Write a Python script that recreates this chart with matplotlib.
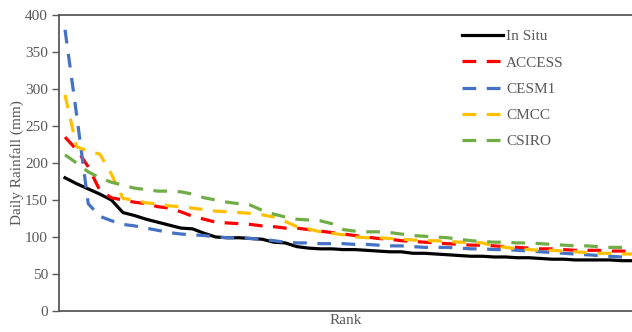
import matplotlib.pyplot as plt
import numpy as np

plt.rcParams['font.family'] = ['Liberation Serif', 'DejaVu Serif']

fontsize = 11
txt_color = "#595959"

rank = np.arange(50)

in_situ = [180, 172, 165, 158, 150, 133, 129, 124, 120, 116,
           112, 111, 105, 100, 99, 99, 98, 97, 93, 92,
           87, 85, 84, 84, 83, 83, 82, 81, 80, 80,
           78, 78, 77, 76, 75, 74, 74, 73, 73, 72,
           72, 71, 70, 70, 69, 69, 69, 69, 68, 68]
access = [235, 218, 195, 163, 153, 150, 147, 145, 141, 139,
          134, 128, 124, 120, 119, 118, 117, 115, 114, 112,
          112, 110, 108, 106, 104, 102, 100, 98, 97, 95,
          94, 93, 92, 91, 90, 89, 89, 88, 87, 86,
          85, 84, 84, 83, 82, 82, 82, 81, 81, 80]
cesm1 = [380, 265, 145, 128, 122, 117, 115, 112, 109, 106,
         104, 103, 102, 100, 99, 99, 98, 97, 95, 93,
         92, 92, 91, 91, 91, 90, 90, 89, 88, 88,
         87, 86, 86, 86, 85, 84, 84, 83, 83, 82,
         81, 80, 79, 78, 77, 76, 75, 74, 73, 73]
cmcc = [292, 222, 216, 212, 185, 152, 150, 146, 145, 142,
        141, 139, 137, 135, 134, 133, 132, 130, 127, 121,
        114, 111, 107, 105, 103, 100, 99, 99, 98, 97,
        96, 95, 95, 94, 93, 93, 92, 88, 86, 84,
        83, 82, 82, 81, 80, 79, 78, 78, 77, 77]
csiro = [211, 200, 188, 180, 174, 170, 166, 164, 162, 162,
         161, 158, 153, 150, 147, 145, 143, 136, 131, 127,
         124, 123, 122, 118, 110, 108, 107, 107, 106, 104,
         102, 101, 100, 99, 97, 95, 94, 93, 93, 92,
         92, 91, 90, 89, 88, 88, 87, 86, 86, 86]

fig = plt.figure(figsize=(6.32, 3.32), dpi=100)
ax = fig.add_axes([59 / 632, 21 / 332, 573 / 632, 296 / 332])

lw = 2.3
dash = (4.3, 3.3)
ax.plot(rank, in_situ, color="black", linewidth=lw, label="In Situ")
ax.plot(rank, access, color="#FF0000", linewidth=lw, dashes=dash, label="ACCESS")
ax.plot(rank, cesm1, color="#4472C4", linewidth=lw, dashes=dash, label="CESM1")
ax.plot(rank, cmcc, color="#FFC000", linewidth=lw, dashes=dash, label="CMCC")
ax.plot(rank, csiro, color="#70AD47", linewidth=lw, dashes=dash, label="CSIRO")

ax.set_xlim(-0.52, 48.9)
ax.set_ylim(0, 400)
ax.set_yticks(np.arange(0, 401, 50))
ax.set_xticks([])
ax.tick_params(axis="y", direction="out", length=5, width=1, color="#595959",
               labelsize=fontsize, labelcolor=txt_color, pad=3)

for side in ["left", "bottom", "top"]:
    ax.spines[side].set_color("#595959")
    ax.spines[side].set_linewidth(1.3)
ax.spines["right"].set_visible(False)

ax.set_ylabel("Daily Rainfall (mm)", fontsize=fontsize, color=txt_color, labelpad=1)
ax.set_xlabel("Rank", fontsize=fontsize, color=txt_color, labelpad=2)

ax.legend(loc="upper left", bbox_to_anchor=(0.703, 0.95), frameon=False,
          fontsize=fontsize, labelcolor=txt_color, handlelength=2.7,
          handletextpad=0.2, labelspacing=0.82, borderpad=0, borderaxespad=0)

fig.savefig("out.png", dpi=100)
